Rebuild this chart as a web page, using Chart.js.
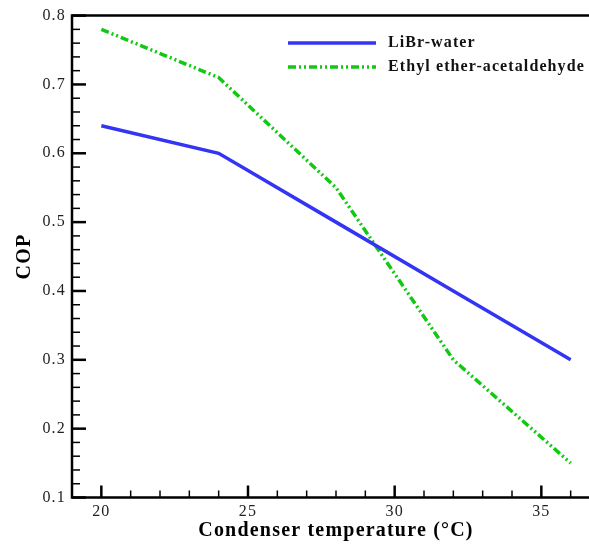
<!DOCTYPE html>
<html><head><meta charset="utf-8">
<style>html,body{margin:0;padding:0;background:#fff;overflow:hidden}#wrap{width:589px;height:544px;overflow:hidden}</style>
<script src="https://cdn.jsdelivr.net/npm/chart.js@4.4.1/dist/chart.umd.min.js"></script>
</head><body><div id="wrap"><canvas id="c" width="600" height="544"></canvas></div>
<script>
// ---- data ----
const temperatures = [20, 24, 28, 32, 36];
const copLiBrWater = [0.64, 0.60, 0.50, 0.40, 0.30];
const copEthylEtherAcetaldehyde = [0.78, 0.71, 0.55, 0.30, 0.15];
const seriesNames = ['LiBr-water', 'Ethyl ether-acetaldehyde'];
const xTickLabels = [20, 25, 30, 35];
const yTickLabels = ['0.1', '0.2', '0.3', '0.4', '0.5', '0.6', '0.7', '0.8'];
const xAxisTitle = 'Condenser temperature (°C)';
const yAxisTitle = 'COP';

const FONT = '"Liberation Serif", "Times New Roman", Tinos, Times, serif';
const BLUE = '#3434f4';
const GREEN = '#12c812';

const spacingPlugin = {
  id: 'spacing',
  beforeUpdate(chart) { chart.ctx.letterSpacing = '1.2px'; },
  beforeDraw(chart) {
    const ctx = chart.ctx;
    ctx.letterSpacing = '1.2px';
    ctx.save();
    ctx.fillStyle = '#fff';
    ctx.fillRect(0, 0, chart.width, chart.height);
    ctx.restore();
  }
};

const axesPlugin = {
  id: 'axesFrame',
  afterDatasetsDraw(chart) {
    const {ctx, chartArea: a, scales: {x, y}} = chart;
    ctx.save();
    ctx.strokeStyle = '#000';
    ctx.lineCap = 'butt';
    for (let v = Math.ceil(x.min); v <= x.max; v++) {
      const px = x.getPixelForValue(v);
      const major = v % 5 === 0;
      ctx.lineWidth = major ? 2.5 : 1.5;
      ctx.beginPath();
      ctx.moveTo(px, a.bottom);
      ctx.lineTo(px, a.bottom - (major ? 12 : 7));
      ctx.stroke();
    }
    for (let i = 0; i <= 35; i++) {
      const py = y.getPixelForValue(y.min + i * 0.02);
      const major = i % 5 === 0;
      ctx.lineWidth = major ? 2.5 : 1.5;
      ctx.beginPath();
      ctx.moveTo(a.left, py);
      ctx.lineTo(a.left + (major ? 14 : 8), py);
      ctx.stroke();
    }
    ctx.lineWidth = 2.5;
    ctx.beginPath();
    ctx.moveTo(a.right, a.top);
    ctx.lineTo(a.left, a.top);
    ctx.lineTo(a.left, a.bottom);
    ctx.lineTo(a.right, a.bottom);
    ctx.stroke();
    ctx.restore();
  }
};

const legendPlugin = {
  id: 'innerLegend',
  afterDraw(chart) {
    const ctx = chart.ctx;
    ctx.save();
    ctx.letterSpacing = '1.1px';
    ctx.font = 'bold 16px ' + FONT;
    ctx.textBaseline = 'middle';
    ctx.fillStyle = '#111';
    const rows = [43, 67];
    chart.data.datasets.forEach((ds, i) => {
      const yy = rows[i];
      ctx.strokeStyle = ds.borderColor;
      ctx.lineWidth = ds.borderWidth;
      ctx.setLineDash(ds.borderDash || []);
      ctx.beginPath();
      ctx.moveTo(288, yy);
      ctx.lineTo(376, yy);
      ctx.stroke();
      ctx.setLineDash([]);
      ctx.fillText(ds.label, 388, yy);
    });
    ctx.restore();
  }
};

new Chart(document.getElementById('c'), {
  type: 'line',
  data: {
    datasets: [
      {
        label: seriesNames[0],
        data: temperatures.map((t, i) => ({x: t, y: copLiBrWater[i]})),
        borderColor: BLUE, borderWidth: 3.5, pointRadius: 0, fill: false, tension: 0
      },
      {
        label: seriesNames[1],
        data: temperatures.map((t, i) => ({x: t, y: copEthylEtherAcetaldehyde[i]})),
        borderColor: GREEN, borderWidth: 3.5, borderDash: [8, 3, 2, 3, 2, 3],
        pointRadius: 0, fill: false, tension: 0
      }
    ]
  },
  options: {
    responsive: false,
    animation: false,
    devicePixelRatio: 1,
    layout: {autoPadding: false, padding: {top: 15, left: 0, right: 0, bottom: 0}},
    plugins: {legend: {display: false}, tooltip: {enabled: false}},
    scales: {
      x: {
        type: 'linear', min: 19, max: 37,
        afterFit(s) { s.height = 46.5; s.paddingRight = 0; s.paddingLeft = 0; },
        grid: {display: false, drawTicks: false},
        border: {display: false},
        ticks: {
          stepSize: 1, autoSkip: false, includeBounds: false, maxRotation: 0,
          padding: 5, color: '#222', font: {family: FONT, size: 16},
          callback: v => xTickLabels.includes(v) ? String(v) : ''
        },
        title: {
          display: true, text: xAxisTitle, color: '#000',
          font: {family: FONT, size: 20, weight: 'bold'},
          padding: {top: 0, bottom: 1}
        }
      },
      y: {
        type: 'linear', min: 0.1, max: 0.8,
        afterFit(s) { s.width = 72; },
        grid: {display: false, drawTicks: false},
        border: {display: false},
        ticks: {
          stepSize: 0.1, padding: 6, color: '#222', font: {family: FONT, size: 16},
          callback: (v) => { const s = v.toFixed(1); return yTickLabels.includes(s) ? s : ''; }
        },
        title: {
          display: true, text: yAxisTitle, color: '#000',
          font: {family: FONT, size: 20, weight: 'bold'},
          padding: {top: 13, bottom: 0}
        }
      }
    }
  },
  plugins: [spacingPlugin, axesPlugin, legendPlugin]
});
</script>
</body></html>
